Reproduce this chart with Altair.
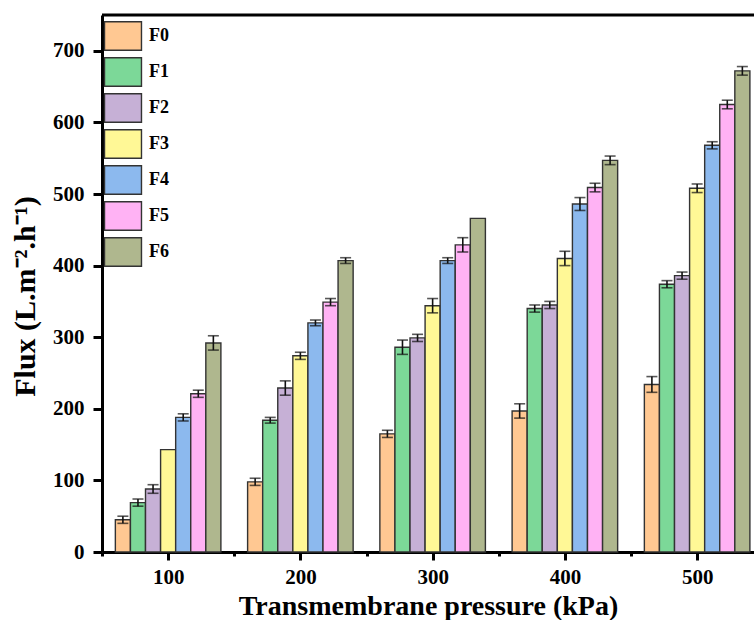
import altair as alt
import pandas as pd

# Transmembrane pressures (kPa) and membrane series
pressures = [100, 200, 300, 400, 500]
series = ["F0", "F1", "F2", "F3", "F4", "F5", "F6"]

# Mean flux (L.m-2.h-1) per series, one value per pressure
flux_F0 = [45, 98, 165, 197, 234]
flux_F1 = [69, 184, 286, 340, 374]
flux_F2 = [88, 229, 299, 345, 386]
flux_F3 = [143, 274, 344, 410, 508]
flux_F4 = [188, 320, 407, 486, 568]
flux_F5 = [221, 349, 429, 509, 625]
flux_F6 = [292, 407, 466, 547, 672]

# Standard deviations (0 = no error bar drawn)
sd_F0 = [5, 5, 5, 10, 11]
sd_F1 = [5, 4, 10, 5, 5]
sd_F2 = [6, 10, 5, 5, 5]
sd_F3 = [0, 5, 10, 10, 6]
sd_F4 = [5, 4, 4, 9, 5]
sd_F5 = [5, 5, 10, 6, 6]
sd_F6 = [10, 4, 0, 6, 6]

colors = ["#FFC892", "#7CD898", "#C6B0D6", "#FFF896", "#8CB9EE", "#FFB2F4", "#AFB78E"]

flux = [flux_F0, flux_F1, flux_F2, flux_F3, flux_F4, flux_F5, flux_F6]
sds = [sd_F0, sd_F1, sd_F2, sd_F3, sd_F4, sd_F5, sd_F6]

rows = []
for i, name in enumerate(series):
    for j, p in enumerate(pressures):
        rows.append({"series": name, "idx": i, "pressure": p,
                     "flux": flux[i][j], "sd": sds[i][j]})
df = pd.DataFrame(rows)

BAR_W = 11.4  # bar width in kPa units
FONT = "Liberation Serif"
Y_TITLE = "Flux (L.m\u207b\u00b2.h\u207b\u00b9)"
X_TITLE = "Transmembrane pressure (kPa)"

base = alt.Chart(df).transform_calculate(
    xc=f"datum.pressure + (datum.idx - 3) * {BAR_W}",
    x0=f"datum.pressure + (datum.idx - 3) * {BAR_W} - {BAR_W / 2}",
    x1=f"datum.pressure + (datum.idx - 3) * {BAR_W} + {BAR_W / 2}",
    lo="datum.flux - datum.sd",
    hi="datum.flux + datum.sd",
    zero="0",
)

x_scale = alt.Scale(domain=[50, 543], nice=False, zero=False)
y_scale = alt.Scale(domain=[0, 750], nice=False)

x_axis = alt.Axis(
    title=X_TITLE,
    values=[50, 100, 150, 200, 250, 300, 350, 400, 450, 500, 550],
    labelExpr="datum.value % 100 === 0 ? datum.label : ''",
    tickSize={"condition": {"test": "datum.value % 100 === 0", "value": 8}, "value": 4},
    tickWidth=3, domainWidth=3, domainColor="black", tickColor="black",
    labelFont=FONT, labelFontSize=21, labelFontWeight="bold", labelColor="black",
    labelPadding=6, grid=False,
    titleFont=FONT, titleFontSize=28, titleFontWeight="bold", titleColor="black",
    titlePadding=5,
)
y_axis = alt.Axis(
    title=Y_TITLE,
    values=list(range(0, 701, 50)),
    labelExpr="datum.value % 100 === 0 ? datum.label : ''",
    tickSize={"condition": {"test": "datum.value % 100 === 0", "value": 9}, "value": 4},
    tickWidth=3, domainWidth=3, domainColor="black", tickColor="black",
    labelFont=FONT, labelFontSize=21, labelFontWeight="bold", labelColor="black",
    labelPadding=9, grid=False,
    titleFont=FONT, titleFontSize=30, titleFontWeight="bold", titleColor="black",
    titlePadding=12, titleY=281,
)

bars = base.mark_bar(stroke="#333333", strokeWidth=1.4).encode(
    x=alt.X("x0:Q", scale=x_scale, axis=x_axis),
    x2="x1:Q",
    y=alt.Y("flux:Q", scale=y_scale, axis=y_axis),
    y2="zero:Q",
    fill=alt.Fill(
        "series:N",
        scale=alt.Scale(domain=series, range=colors),
        legend=alt.Legend(
            title=None, orient="none", legendX=6, legendY=6,
            symbolType="M-1.32,-1.02L1.32,-1.02L1.32,1.02L-1.32,1.02Z",
            symbolSize=784,
            symbolStrokeColor="#333333", symbolStrokeWidth=1.4,
            labelFont=FONT, labelFontSize=18, labelFontWeight="bold",
            labelColor="black", labelOffset=11, rowPadding=0,
        ),
    ),
)

errs = base.transform_filter("datum.sd > 0").mark_errorbar(
    ticks={"size": 11, "thickness": 1.6, "color": "#111111"},
    rule={"strokeWidth": 1.6, "color": "#111111"},
).encode(
    x=alt.X("xc:Q", scale=x_scale, title=X_TITLE),
    y=alt.Y("lo:Q", scale=y_scale, title=Y_TITLE),
    y2="hi:Q",
)

top = alt.Chart(pd.DataFrame({"v": [750]})).mark_rule(
    color="black", strokeWidth=3
).encode(y=alt.Y("v:Q", scale=y_scale, title=Y_TITLE))

chart = alt.layer(bars, errs, top).properties(
    width=652, height=537,
    autosize=alt.AutoSizeParams(type="none"),
    padding={"left": 102, "top": 15, "right": 0, "bottom": 68},
).configure_view(stroke=None).configure(background="white")

chart.save("out.html", embed_options={"renderer": "svg", "actions": False})
